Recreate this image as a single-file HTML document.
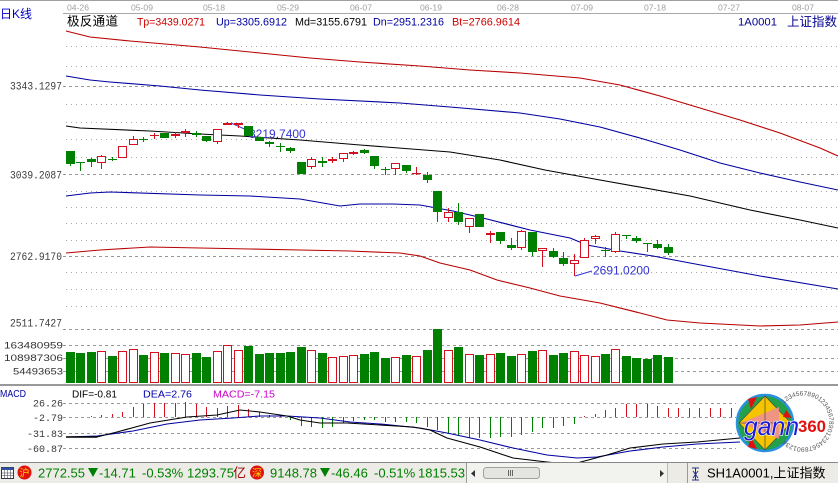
<!DOCTYPE html>
<html><head><meta charset="utf-8">
<style>
html,body{margin:0;padding:0;background:#fff;}
svg{display:block;}
text{font-family:"Liberation Sans","Noto Sans CJK SC",sans-serif;}
.m{font-family:"Liberation Mono",monospace;}
</style></head><body>
<svg id="s" width="838" height="483" viewBox="0 0 838 483" xmlns="http://www.w3.org/2000/svg">
<defs><clipPath id="mc"><rect x="0" y="387" width="838" height="75.5"/></clipPath></defs>
<rect width="838" height="483" fill="#fff"/>
<rect x="0" y="0" width="838" height="1" fill="#a0a0a0"/>
<rect x="63" y="13" width="775" height="1" fill="#a8a8a8"/>

<!-- date labels -->
<g font-size="8.5" fill="#a0a0a0">
<text x="67" y="10.5" textLength="22" lengthAdjust="spacingAndGlyphs">04-26</text>
<text x="131" y="10.5" textLength="22" lengthAdjust="spacingAndGlyphs">05-09</text>
<text x="203" y="10.5" textLength="22" lengthAdjust="spacingAndGlyphs">05-18</text>
<text x="277" y="10.5" textLength="22" lengthAdjust="spacingAndGlyphs">05-29</text>
<text x="350" y="10.5" textLength="22" lengthAdjust="spacingAndGlyphs">06-07</text>
<text x="420" y="10.5" textLength="22" lengthAdjust="spacingAndGlyphs">06-19</text>
<text x="497" y="10.5" textLength="22" lengthAdjust="spacingAndGlyphs">06-28</text>
<text x="571" y="10.5" textLength="22" lengthAdjust="spacingAndGlyphs">07-09</text>
<text x="644" y="10.5" textLength="22" lengthAdjust="spacingAndGlyphs">07-18</text>
<text x="718" y="10.5" textLength="22" lengthAdjust="spacingAndGlyphs">07-27</text>
<text x="792" y="10.5" textLength="22" lengthAdjust="spacingAndGlyphs">08-07</text>
</g>

<!-- header -->
<text x="0" y="18" font-size="12" fill="#0000c8">日K线</text>
<text x="67" y="25.5" font-size="12.5" fill="#000" textLength="51">极反通道</text>
<g font-size="11">
<text x="137" y="25.5" fill="#cc0000" textLength="68" lengthAdjust="spacingAndGlyphs">Tp=3439.0271</text>
<text x="216" y="25.5" fill="#0000a0" textLength="71" lengthAdjust="spacingAndGlyphs">Up=3305.6912</text>
<text x="295" y="25.5" fill="#000" textLength="72" lengthAdjust="spacingAndGlyphs">Md=3155.6791</text>
<text x="373" y="25.5" fill="#0000a0" textLength="71" lengthAdjust="spacingAndGlyphs">Dn=2951.2316</text>
<text x="452" y="25.5" fill="#cc0000" textLength="68" lengthAdjust="spacingAndGlyphs">Bt=2766.9614</text>
<text x="738" y="25.5" fill="#000090" textLength="39" lengthAdjust="spacingAndGlyphs">1A0001</text>
</g>
<text x="787" y="26" font-size="12.5" fill="#000090" textLength="50">上证指数</text>

<!-- grid main -->
<g stroke="#a8a8a8" stroke-width="1" stroke-dasharray="1 4">
<line x1="66" y1="46.5" x2="838" y2="46.5"/>
<line x1="66" y1="66.5" x2="838" y2="66.5"/>
<line x1="66" y1="104.5" x2="838" y2="104.5"/>
<line x1="66" y1="122.5" x2="838" y2="122.5"/>
<line x1="66" y1="139.5" x2="838" y2="139.5"/>
<line x1="66" y1="157.5" x2="838" y2="157.5"/>
<line x1="66" y1="191.5" x2="838" y2="191.5"/>
<line x1="66" y1="207.5" x2="838" y2="207.5"/>
<line x1="66" y1="223.5" x2="838" y2="223.5"/>
<line x1="66" y1="240.5" x2="838" y2="240.5"/>
<line x1="66" y1="272.5" x2="838" y2="272.5"/>
<line x1="66" y1="289.5" x2="838" y2="289.5"/>
<line x1="66" y1="306.5" x2="838" y2="306.5"/>
</g>
<g stroke="#999" stroke-width="1" stroke-dasharray="3 3">
<line x1="63" y1="86.5" x2="838" y2="86.5"/>
<line x1="63" y1="174.5" x2="838" y2="174.5"/>
<line x1="63" y1="256.5" x2="838" y2="256.5"/>
<line x1="63" y1="329.5" x2="838" y2="329.5"/>
<line x1="63" y1="345.5" x2="838" y2="345.5"/>
<line x1="63" y1="358.5" x2="838" y2="358.5"/>
<line x1="63" y1="371.5" x2="838" y2="371.5"/>
<line x1="63" y1="403.5" x2="736" y2="403.5"/>
<line x1="63" y1="417.5" x2="736" y2="417.5"/>
<line x1="63" y1="433.5" x2="736" y2="433.5"/>
<line x1="63" y1="448.5" x2="736" y2="448.5"/>
</g>

<!-- y labels -->
<g class="m" font-size="11" fill="#3a3a3a" text-anchor="end">
<text class="m" x="62" y="89.5" textLength="52" lengthAdjust="spacingAndGlyphs">3343.1297</text>
<text class="m" x="62" y="178.3" textLength="52" lengthAdjust="spacingAndGlyphs">3039.2087</text>
<text class="m" x="62" y="260" textLength="52" lengthAdjust="spacingAndGlyphs">2762.9170</text>
<text class="m" x="62" y="326.5" textLength="52" lengthAdjust="spacingAndGlyphs">2511.7427</text>
</g>
<g font-size="9" fill="#333" text-anchor="end">
<text x="63" y="348.5" textLength="59" lengthAdjust="spacingAndGlyphs">163480959</text>
<text x="63" y="361" textLength="59" lengthAdjust="spacingAndGlyphs">108987306</text>
<text x="63" y="374.3" textLength="50" lengthAdjust="spacingAndGlyphs">54493653</text>
</g>
<g font-size="10" fill="#3a3a3a" text-anchor="end">
<text class="m" x="63" y="406.5" textLength="30" lengthAdjust="spacingAndGlyphs">26.26</text>
<text class="m" x="63" y="421" textLength="30" lengthAdjust="spacingAndGlyphs">-2.79</text>
<text class="m" x="63" y="437" textLength="36" lengthAdjust="spacingAndGlyphs">-31.83</text>
<text class="m" x="63" y="452" textLength="36" lengthAdjust="spacingAndGlyphs">-60.87</text>
</g>

<!-- channel lines -->
<g fill="none" stroke-width="1.1">
<polyline stroke="#b80000" points="66,31 90,37 130,41 200,47 260,53 310,58 360,62 420,66 470,70 520,73 580,78 620,85 660,96 700,108 740,120 780,133 820,148 838,156"/>
<polyline stroke="#0000a0" points="66,76 90,80 110,82 160,86 200,90 260,95 320,99 400,103 450,107 520,113 560,119 600,127 640,138 680,150 720,163 760,173 800,182 838,190"/>
<polyline stroke="#000" points="66,126 80,128 150,131 200,134 240,136 300,140 360,145 450,152 500,160 545,170 600,180 690,196 750,210 800,220 838,228"/>
<polyline stroke="#0000a0" points="66,196 90,193 110,192 200,195 250,196 300,199 340,206 360,204 393,204 420,205 453,211 487,219 530,230 570,238 587,245 620,251 653,256 690,263 760,276 838,289"/>
<polyline stroke="#b80000" points="66,253 100,250 150,247 200,248 250,249 300,250 350,251 400,253 420,256 440,263 470,270 497,280 530,288 560,296 600,303 640,313 667,320 700,323 760,326 800,325 838,322"/>
</g>

<!-- annotations -->
<text x="249" y="138" font-size="12" fill="#3434d4">3219.7400</text>
<line x1="231" y1="123" x2="249" y2="131" stroke="#3434d4"/>
<line x1="575" y1="276" x2="592" y2="271" stroke="#3434d4"/>
<text x="593" y="274.5" font-size="12" fill="#3434d4">2691.0200</text>

<g id="cd"></g>
<g id="vol"></g>
<g id="hist"></g>

<!-- separator -->
<rect x="0" y="384" width="838" height="2" fill="#999"/>

<!-- MACD header -->
<text x="0" y="397" font-size="10" fill="#0000a0" textLength="26" lengthAdjust="spacingAndGlyphs">MACD</text>
<text x="72" y="397.3" font-size="10.5" fill="#000" textLength="45" lengthAdjust="spacingAndGlyphs">DIF=-0.81</text>
<text x="143" y="397.3" font-size="10.5" fill="#0000aa" textLength="49" lengthAdjust="spacingAndGlyphs">DEA=2.76</text>
<text x="213" y="397.3" font-size="10.5" fill="#cc00cc" textLength="62" lengthAdjust="spacingAndGlyphs">MACD=-7.15</text>

<!-- MACD lines -->
<g clip-path="url(#mc)" fill="none">
<polyline stroke="#0000a0" stroke-width="1.1" points="66,437 97,436 133,431 167,424 200,420 233,418 260,416 287,416 320,418 350,422 380,424 420,428 447,433 480,440 513,448 547,455 577,458 597,457 630,451 663,447 697,444 740,442"/>
<polyline stroke="#000" stroke-width="1.1" points="66,437 97,437 117,432 150,423 187,417 217,415 240,410 260,412 287,416 300,420 320,423 347,423 380,425 413,427 430,430 447,438 480,447 513,458 547,462 567,464 577,463 607,455 630,448 663,444 697,442 740,438"/>
<polyline stroke="#000" stroke-width="1.5" points="66,437 97,437"/>
</g>

<!-- logo -->
<g>
<circle cx="765" cy="423" r="28" fill="#22a04a" stroke="#2a90e0" stroke-width="2.5"/>
<polygon points="765,396 791,423 765,450 739,423" fill="#f5c400" stroke="#444" stroke-width="0.6"/>
<polygon points="741,423 779,407 779,439" fill="#f09090" opacity="0.9"/>
<polygon points="748,399 757,397 751,409" fill="#e01010"/>
<polygon points="748,447 757,449 751,437" fill="#e01010"/>
<polygon points="786,410 792,418 783,417" fill="#e01010"/>
<line x1="765" y1="396" x2="765" y2="450" stroke="#333" stroke-width="0.6"/>
<line x1="739" y1="423" x2="791" y2="423" stroke="#333" stroke-width="0.6"/>
<text x="744" y="435" font-family="Liberation Serif" font-style="italic" font-size="26" fill="#1a1ad8" stroke="#fff" stroke-width="1.2" paint-order="stroke" textLength="55" lengthAdjust="spacingAndGlyphs">gann</text>
<text x="798" y="432" font-weight="bold" font-size="17" fill="#e01010" textLength="28" lengthAdjust="spacingAndGlyphs">360</text>
<path id="ring" d="M 784 404 A 26 26 0 1 1 786 441" fill="none"/>
<text font-size="6.5" fill="#555"><textPath href="#ring">1234567890123456789012345678901234567890</textPath></text>
</g>

<!-- status bar -->
<rect x="0" y="462" width="838" height="21" fill="#ecebe6"/>
<rect x="0" y="462" width="838" height="1" fill="#888"/>
<g>
<rect x="1.5" y="467.5" width="12" height="11" fill="#fff" stroke="#334"/>
<rect x="1.5" y="467.5" width="12" height="2.5" fill="#3050a0"/>
<g stroke="#556" stroke-width="0.6">
<line x1="4.5" y1="470" x2="4.5" y2="478"/><line x1="7.5" y1="470" x2="7.5" y2="478"/><line x1="10.5" y1="470" x2="10.5" y2="478"/>
<line x1="2" y1="473" x2="13" y2="473"/><line x1="2" y1="475.5" x2="13" y2="475.5"/>
</g>
</g>
<circle cx="24.5" cy="472.5" r="7" fill="#e01010"/>
<text x="19.5" y="476.5" font-size="10" fill="#ffd800">沪</text>
<g font-size="13" fill="#008000">
<text x="38" y="477.7">2772.55</text>
<text x="99" y="477.7">-14.71</text>
<text x="142" y="477.7">-0.53%</text>
<text x="187" y="477.7">1293.75</text>
<text x="270" y="477.7">9148.78</text>
<text x="331" y="477.7">-46.46</text>
<text x="374" y="477.7">-0.51%</text>
<text x="418" y="477.7">1815.53</text>
</g>
<polygon points="88,468 98,468 93,477" fill="#008000"/>
<polygon points="320,468 330,468 325,477" fill="#008000"/>
<text x="233" y="477.7" font-size="13" fill="#990000">亿</text>
<circle cx="257" cy="472.5" r="7" fill="#e01010"/>
<text x="252" y="476.5" font-size="10" fill="#ffd800">深</text>

<!-- scrollbar -->
<rect x="466" y="463" width="202" height="20" fill="#f2f2ee"/>
<line x1="466.5" y1="463" x2="466.5" y2="483" stroke="#999"/>
<polygon points="475,470 475,477 471,473.5" fill="#333"/>
<rect x="483.5" y="467.5" width="56" height="11" rx="3" fill="#e4e4e0" stroke="#a0a0a0"/>
<g stroke="#666"><line x1="508.5" y1="470" x2="508.5" y2="476"/><line x1="510.5" y1="470" x2="510.5" y2="476"/><line x1="512.5" y1="470" x2="512.5" y2="476"/></g>
<polygon points="660,470 660,477 664,473.5" fill="#333"/>
<line x1="667.5" y1="463" x2="667.5" y2="483" stroke="#bbb"/>
<line x1="687.5" y1="463" x2="687.5" y2="483" stroke="#999"/>
<g stroke="#203080" stroke-width="1">
<line x1="695.5" y1="468" x2="695.5" y2="480"/>
<line x1="692" y1="480" x2="699" y2="480"/>
<line x1="692" y1="468" x2="699" y2="468"/>
<line x1="693" y1="478" x2="698" y2="471"/>
<line x1="698" y1="478" x2="693" y2="471"/>
</g>
<text x="707" y="477.7" font-size="13" fill="#000">SH1A0001,上证指数</text>
</svg>

<script>
var ns="http://www.w3.org/2000/svg";
function el(p,t,a){var e=document.createElementNS(ns,t);for(var k in a)e.setAttribute(k,a[k]);p.appendChild(e);return e;}
var C=[
['g',151,164,151,166],['g',162,163,161.7,170.7],['g',159.3,161.7,158,166.7],['r',156,163.3,155,168.7],['g',159,160,156.7,160.7],
['r',146,157.7,146,158],['r',139.3,145.3,136,145.3],['g',139,140,137.3,142],['r',134.5,135.5,133.3,139.3],['g',132.7,137.7,132.7,137.7],
['r',134,136.3,132.3,137.7],['r',130.7,133.3,129.3,137.3],['g',133.3,135,131,136.7],['g',136,140.7,136,141.7],['r',129,141.7,129,143.7],
['r',122.7,125.3,122,125.3],['r',123.3,125,123,128.3],['g',126,136,126,136],['g',136.7,140.7,136.7,140.7],['g',141.7,144,140.7,147.3],
['g',146.2,147.2,142.7,151.7],['g',148,150.7,146.7,152.7],['g',162.3,174,162.3,174],['r',159,167.3,157.3,169.3],['g',160.7,163.3,157.3,167.3],
['r',159.3,160.7,157.3,162.7],['r',152.7,159.3,152.7,162.3],['r',152,154,150.7,155],['g',150,153.3,148.7,154],['g',156,165.7,156,169.3],
['g',168.5,169.5,167.3,175],['r',163.3,169.3,163.3,175],['g',165,170.7,165,172.7],['r',172.5,173.5,167.3,175],['g',175,180,172,182.7],
['g',191,212,191,222],['r',211.7,217.7,208.3,222.3],['g',212.3,222.3,203.3,225],['r',218.3,227.3,218.3,233.3],['g',214,226.7,214,227.3],
['r',232.7,235.3,231,242.7],['g',231.7,240.7,231.7,244.3],['g',245,247.7,238.3,250],['r',231,247.7,230,250],['g',232.3,251.7,232.3,256],
['r',248.3,251,248.3,266.7],['g',251,256.7,248.3,258.3],['g',257.7,264,251.7,266],['r',260,264.3,254.3,276],['r',240,257.7,238.3,258.3],
['r',236,238.7,235,244],['g',249.5,250.5,246.7,257.3],['r',234,252.3,231.7,253.3],['g',235,235.7,235,239],['g',237.7,240.7,235.7,242.7],
['g',243,244,242.7,251.7],['g',244,247.7,240,249.3],['g',246.7,252.7,244,255]];
var V=[351.7,352.7,351.7,351,355.7,351,349,354.7,352,352.7,353,354,352.7,356.7,351,344.7,350,345.7,353.7,352.7,352.7,351.7,346.7,350,352.7,356.7,355.7,354.7,
353.7,351.7,357.7,356.7,354.7,356,349.7,329,350,346.7,354,354.7,354,352.7,355.7,354,350.7,350,354.7,352.7,351,355,356,353.7,349,355.7,357.7,358.7,354.7,356.7];
var H=[416.7,416.7,416,415,414,411.7,406.7,404,403.3,403.3,403.3,401.7,404,406.7,407.7,405.7,405,409,411.7,414.5,415,
420,426,427,428,427,423,421,420,420,422,422,422,423,426.7,430,432.7,435,438.3,438.3,438.3,436.7,437,435,431.7,428.3,428.3,425.7,424.3,
416,414.3,410,407.7,404,404,404,405.7,407.7,408.3,408.3,408.3,408.3,408.3,408.3];
var G='#008000',R='#d41020';
var cd=document.getElementById('cd'),vol=document.getElementById('vol'),hs=document.getElementById('hist');
C.forEach(function(c,i){
  var L=Math.round(66+i*10.49),cx=L+4.5,col=c[0]=='g'?G:R;
  var t=Math.round(c[1]),b=Math.round(c[2]),h=Math.round(c[3]),l=Math.round(c[4]);
  if(h<l) el(cd,'line',{x1:cx,y1:h,x2:cx,y2:l,stroke:col});
  if(b-t<2){ el(cd,'line',{x1:L,y1:t+0.5,x2:L+9,y2:t+0.5,stroke:col}); }
  else if(c[0]=='g'){ el(cd,'rect',{x:L,y:t,width:9,height:b-t,fill:col}); }
  else { el(cd,'rect',{x:L+0.5,y:t+0.5,width:8,height:b-t-1,fill:'#fff',stroke:col}); }
});
V.forEach(function(v,i){
  var L=Math.round(66+i*10.49),t=Math.round(v),g=C[i][0]=='g';
  if(g) el(vol,'rect',{x:L,y:t,width:9,height:383-t,fill:G});
  else el(vol,'rect',{x:L+0.5,y:t+0.5,width:8,height:383-t-1,fill:'#fff',stroke:R});
});
H.forEach(function(v,i){
  var L=Math.round(66+i*10.49),x=L+4.5,y=Math.round(v);
  el(hs,'line',{x1:x,y1:417,x2:x,y2:y,stroke:(y<417?R:G)});
});
</script>
</body></html>
